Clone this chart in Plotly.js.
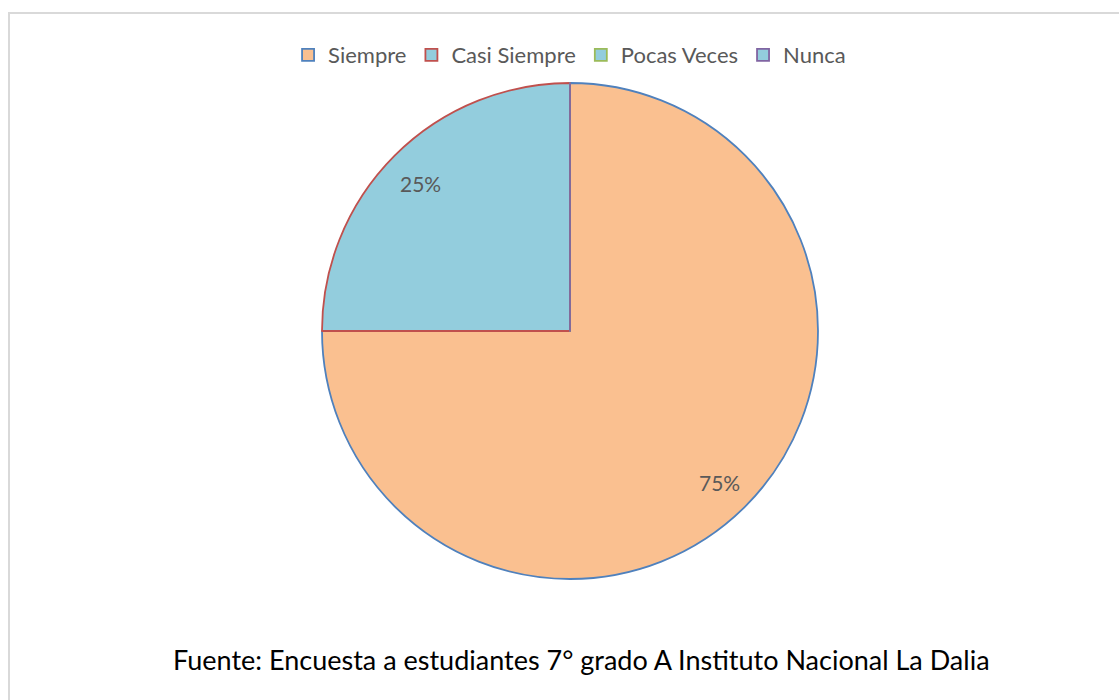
<!DOCTYPE html>
<html>
<head>
<meta charset="utf-8">
<script src="https://cdn.plot.ly/plotly-3.0.1.min.js"></script>
<style>html,body{margin:0;padding:0;background:#fff;}#chart{width:1119px;height:700px;}</style>
</head>
<body>
<div id="chart"></div>
<script>
const categories = ['Siempre', 'Casi Siempre', 'Pocas Veces', 'Nunca'];
const values = [75, 25, 0, 0];
const fillColors = ['#FAC090', '#93CDDD', '#93CDDD', '#93CDDD'];
const lineColors = ['#4F81BD', '#C0504D', '#9BBB59', '#8064A2'];
const sourceNote = 'Fuente: Encuesta a estudiantes 7° grado A Instituto Nacional La Dalia';

const W = 1119, H = 700;
const cx = 570, cy = 331, r = 248;
const labelRadius = 0.855;
const total = values.reduce((a, b) => a + b, 0);

// percent labels placed at the middle angle of each slice (clockwise from 12 o'clock)
const labelAnnotations = [];
let cum = 0;
values.forEach((v, i) => {
  if (v > 0) {
    const mid = (cum + v / 2) / total * 2 * Math.PI;
    const px = cx + Math.sin(mid) * r * labelRadius;
    const py = cy - Math.cos(mid) * r * labelRadius;
    labelAnnotations.push({
      text: Math.round(v / total * 100) + '%', xref: 'paper', yref: 'paper',
      x: px / W, y: (H - py - 2) / H, xanchor: 'center', yanchor: 'middle', showarrow: false,
      font: {family: 'Lato, "Open Sans", sans-serif', size: 21, color: '#595959'}
    });
  }
  cum += v;
});

const trace = {
  type: 'pie',
  labels: categories,
  values: values,
  sort: false,
  direction: 'clockwise',
  rotation: 0,
  textinfo: 'none',
  marker: {colors: fillColors, line: {color: lineColors, width: 1.8}},
  domain: {x: [(cx - r) / W, (cx + r) / W], y: [(H - cy - r) / H, (H - cy + r) / H]},
  hoverinfo: 'label+percent'
};

const layout = {
  width: W, height: H,
  margin: {l: 0, r: 0, t: 0, b: 0},
  paper_bgcolor: '#ffffff',
  showlegend: true,
  legend: {
    orientation: 'h', x: 0.509, xanchor: 'center', y: (H - 55) / H, yanchor: 'middle',
    font: {family: 'Lato, "Open Sans", sans-serif', size: 22, color: '#595959'},
    itemwidth: 30, traceorder: 'normal'
  },
  shapes: [{
    type: 'rect', xref: 'paper', yref: 'paper',
    x0: 9 / W, x1: 1.02, y0: -0.02, y1: (H - 13) / H,
    line: {color: '#D9D9D9', width: 2}, fillcolor: 'rgba(0,0,0,0)'
  }],
  annotations: labelAnnotations.concat([{
    text: sourceNote, xref: 'paper', yref: 'paper',
    x: 581 / W, y: (H - 659) / H, xanchor: 'center', yanchor: 'middle',
    showarrow: false,
    font: {family: 'Lato, "Open Sans", sans-serif', size: 27, color: '#000000'}
  }])
};

Plotly.newPlot('chart', [trace], layout, {displayModeBar: false, staticPlot: true});
</script>
</body>
</html>
